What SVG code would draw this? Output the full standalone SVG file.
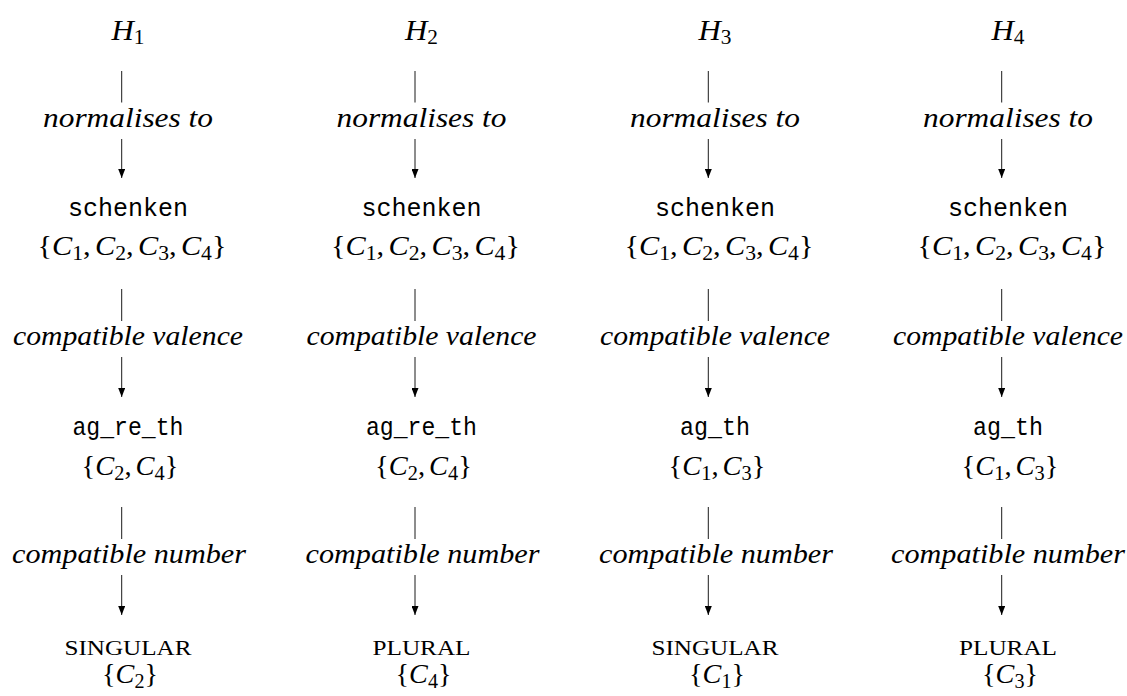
<svg xmlns="http://www.w3.org/2000/svg" width="1127" height="696" viewBox="0 0 1127 696">
<style>
text{fill:#000;text-anchor:middle}
.mi{font-family:"Liberation Serif",serif;font-style:italic}
.rm{font-family:"Liberation Serif",serif;font-style:normal}
.h{font-family:"Liberation Serif",serif;font-size:29px}
.set{font-family:"Liberation Serif",serif;font-size:28px}
.sub{font-family:"Liberation Serif",serif;font-style:normal;font-size:20px}
.tt{font-family:"Liberation Mono",monospace;font-size:25px}
.lbl{font-family:"Liberation Serif",serif;font-style:italic;font-size:28px}
.sc{font-family:"Liberation Serif",serif;font-size:22px}
.edge{stroke:#000;stroke-width:0.9;fill:none}
</style>
<defs>
<marker id="ah" viewBox="0 0 9 7" refX="9" refY="3.5" markerWidth="9" markerHeight="7" markerUnits="userSpaceOnUse" orient="auto">
<path d="M0,0 L9,3.5 L0,7 Z" fill="#000"/>
</marker>
</defs>
<rect width="1127" height="696" fill="#fff"/>

<!-- Column 1 -->
<g id="h1"><text class="h" x="128" y="40" textLength="33" lengthAdjust="spacingAndGlyphs"><tspan class="mi">H</tspan><tspan class="sub" dy="4">1</tspan></text></g>
<g id="c1-schenken"><text class="tt" x="128" y="216" textLength="120" lengthAdjust="spacingAndGlyphs">schenken</text><text class="set" x="132" y="255" textLength="189" lengthAdjust="spacingAndGlyphs"><tspan class="rm">{</tspan><tspan class="mi">C</tspan><tspan class="sub" dy="5">1</tspan><tspan class="rm" dy="-5">,</tspan><tspan class="mi" dx="4">C</tspan><tspan class="sub" dy="5">2</tspan><tspan class="rm" dy="-5">,</tspan><tspan class="mi" dx="4">C</tspan><tspan class="sub" dy="5">3</tspan><tspan class="rm" dy="-5">,</tspan><tspan class="mi" dx="4">C</tspan><tspan class="sub" dy="5">4</tspan><tspan class="rm" dy="-5">}</tspan></text></g>
<g id="c1-val"><text class="tt" x="128" y="435" textLength="111" lengthAdjust="spacingAndGlyphs">ag_re_th</text><text class="set" x="130" y="475" textLength="97" lengthAdjust="spacingAndGlyphs"><tspan class="rm">{</tspan><tspan class="mi">C</tspan><tspan class="sub" dy="5">2</tspan><tspan class="rm" dy="-5">,</tspan><tspan class="mi" dx="4">C</tspan><tspan class="sub" dy="5">4</tspan><tspan class="rm" dy="-5">}</tspan></text></g>
<g id="c1-num"><text class="sc" x="128" y="655" textLength="127" lengthAdjust="spacingAndGlyphs">SINGULAR</text><text class="set" x="130" y="683" textLength="56" lengthAdjust="spacingAndGlyphs"><tspan class="rm">{</tspan><tspan class="mi">C</tspan><tspan class="sub" dy="5">2</tspan><tspan class="rm" dy="-5">}</tspan></text></g>

<!-- Column 2 -->
<g id="h2"><text class="h" x="421.5" y="40" textLength="33" lengthAdjust="spacingAndGlyphs"><tspan class="mi">H</tspan><tspan class="sub" dy="4">2</tspan></text></g>
<g id="c2-schenken"><text class="tt" x="421.5" y="216" textLength="120" lengthAdjust="spacingAndGlyphs">schenken</text><text class="set" x="425.5" y="255" textLength="189" lengthAdjust="spacingAndGlyphs"><tspan class="rm">{</tspan><tspan class="mi">C</tspan><tspan class="sub" dy="5">1</tspan><tspan class="rm" dy="-5">,</tspan><tspan class="mi" dx="4">C</tspan><tspan class="sub" dy="5">2</tspan><tspan class="rm" dy="-5">,</tspan><tspan class="mi" dx="4">C</tspan><tspan class="sub" dy="5">3</tspan><tspan class="rm" dy="-5">,</tspan><tspan class="mi" dx="4">C</tspan><tspan class="sub" dy="5">4</tspan><tspan class="rm" dy="-5">}</tspan></text></g>
<g id="c2-val"><text class="tt" x="421.5" y="435" textLength="111" lengthAdjust="spacingAndGlyphs">ag_re_th</text><text class="set" x="423.5" y="475" textLength="97" lengthAdjust="spacingAndGlyphs"><tspan class="rm">{</tspan><tspan class="mi">C</tspan><tspan class="sub" dy="5">2</tspan><tspan class="rm" dy="-5">,</tspan><tspan class="mi" dx="4">C</tspan><tspan class="sub" dy="5">4</tspan><tspan class="rm" dy="-5">}</tspan></text></g>
<g id="c2-num"><text class="sc" x="421.5" y="655" textLength="98" lengthAdjust="spacingAndGlyphs">PLURAL</text><text class="set" x="423.5" y="683" textLength="56" lengthAdjust="spacingAndGlyphs"><tspan class="rm">{</tspan><tspan class="mi">C</tspan><tspan class="sub" dy="5">4</tspan><tspan class="rm" dy="-5">}</tspan></text></g>

<!-- Column 3 -->
<g id="h3"><text class="h" x="715" y="40" textLength="33" lengthAdjust="spacingAndGlyphs"><tspan class="mi">H</tspan><tspan class="sub" dy="4">3</tspan></text></g>
<g id="c3-schenken"><text class="tt" x="715" y="216" textLength="120" lengthAdjust="spacingAndGlyphs">schenken</text><text class="set" x="719" y="255" textLength="189" lengthAdjust="spacingAndGlyphs"><tspan class="rm">{</tspan><tspan class="mi">C</tspan><tspan class="sub" dy="5">1</tspan><tspan class="rm" dy="-5">,</tspan><tspan class="mi" dx="4">C</tspan><tspan class="sub" dy="5">2</tspan><tspan class="rm" dy="-5">,</tspan><tspan class="mi" dx="4">C</tspan><tspan class="sub" dy="5">3</tspan><tspan class="rm" dy="-5">,</tspan><tspan class="mi" dx="4">C</tspan><tspan class="sub" dy="5">4</tspan><tspan class="rm" dy="-5">}</tspan></text></g>
<g id="c3-val"><text class="tt" x="715" y="435" textLength="70" lengthAdjust="spacingAndGlyphs">ag_th</text><text class="set" x="717" y="475" textLength="97" lengthAdjust="spacingAndGlyphs"><tspan class="rm">{</tspan><tspan class="mi">C</tspan><tspan class="sub" dy="5">1</tspan><tspan class="rm" dy="-5">,</tspan><tspan class="mi" dx="4">C</tspan><tspan class="sub" dy="5">3</tspan><tspan class="rm" dy="-5">}</tspan></text></g>
<g id="c3-num"><text class="sc" x="715" y="655" textLength="127" lengthAdjust="spacingAndGlyphs">SINGULAR</text><text class="set" x="717" y="683" textLength="56" lengthAdjust="spacingAndGlyphs"><tspan class="rm">{</tspan><tspan class="mi">C</tspan><tspan class="sub" dy="5">1</tspan><tspan class="rm" dy="-5">}</tspan></text></g>

<!-- Column 4 -->
<g id="h4"><text class="h" x="1008" y="40" textLength="33" lengthAdjust="spacingAndGlyphs"><tspan class="mi">H</tspan><tspan class="sub" dy="4">4</tspan></text></g>
<g id="c4-schenken"><text class="tt" x="1008" y="216" textLength="120" lengthAdjust="spacingAndGlyphs">schenken</text><text class="set" x="1012" y="255" textLength="189" lengthAdjust="spacingAndGlyphs"><tspan class="rm">{</tspan><tspan class="mi">C</tspan><tspan class="sub" dy="5">1</tspan><tspan class="rm" dy="-5">,</tspan><tspan class="mi" dx="4">C</tspan><tspan class="sub" dy="5">2</tspan><tspan class="rm" dy="-5">,</tspan><tspan class="mi" dx="4">C</tspan><tspan class="sub" dy="5">3</tspan><tspan class="rm" dy="-5">,</tspan><tspan class="mi" dx="4">C</tspan><tspan class="sub" dy="5">4</tspan><tspan class="rm" dy="-5">}</tspan></text></g>
<g id="c4-val"><text class="tt" x="1008" y="435" textLength="70" lengthAdjust="spacingAndGlyphs">ag_th</text><text class="set" x="1010" y="475" textLength="97" lengthAdjust="spacingAndGlyphs"><tspan class="rm">{</tspan><tspan class="mi">C</tspan><tspan class="sub" dy="5">1</tspan><tspan class="rm" dy="-5">,</tspan><tspan class="mi" dx="4">C</tspan><tspan class="sub" dy="5">3</tspan><tspan class="rm" dy="-5">}</tspan></text></g>
<g id="c4-num"><text class="sc" x="1008" y="655" textLength="98" lengthAdjust="spacingAndGlyphs">PLURAL</text><text class="set" x="1010" y="683" textLength="56" lengthAdjust="spacingAndGlyphs"><tspan class="rm">{</tspan><tspan class="mi">C</tspan><tspan class="sub" dy="5">3</tspan><tspan class="rm" dy="-5">}</tspan></text></g>

<!-- Connectors -->
<g id="connectors">
<g id="e1">
<line class="edge" x1="121.7" y1="71" x2="121.7" y2="102.5"/><line class="edge" x1="121.7" y1="139" x2="121.7" y2="178" marker-end="url(#ah)"/>
<line class="edge" x1="121.7" y1="289" x2="121.7" y2="321"/><line class="edge" x1="121.7" y1="357" x2="121.7" y2="397" marker-end="url(#ah)"/>
<line class="edge" x1="121.7" y1="507" x2="121.7" y2="539"/><line class="edge" x1="121.7" y1="575" x2="121.7" y2="615" marker-end="url(#ah)"/>
<text class="lbl" x="128" y="127" textLength="170" lengthAdjust="spacingAndGlyphs">normalises to</text>
<text class="lbl" x="128" y="345" textLength="230" lengthAdjust="spacingAndGlyphs">compatible valence</text>
<text class="lbl" x="129" y="563" textLength="234" lengthAdjust="spacingAndGlyphs">compatible number</text>
</g>
<g id="e2">
<line class="edge" x1="415" y1="71" x2="415" y2="102.5"/><line class="edge" x1="415" y1="139" x2="415" y2="178" marker-end="url(#ah)"/>
<line class="edge" x1="415" y1="289" x2="415" y2="321"/><line class="edge" x1="415" y1="357" x2="415" y2="397" marker-end="url(#ah)"/>
<line class="edge" x1="415" y1="507" x2="415" y2="539"/><line class="edge" x1="415" y1="575" x2="415" y2="615" marker-end="url(#ah)"/>
<text class="lbl" x="421.5" y="127" textLength="170" lengthAdjust="spacingAndGlyphs">normalises to</text>
<text class="lbl" x="421.5" y="345" textLength="230" lengthAdjust="spacingAndGlyphs">compatible valence</text>
<text class="lbl" x="422.5" y="563" textLength="234" lengthAdjust="spacingAndGlyphs">compatible number</text>
</g>
<g id="e3">
<line class="edge" x1="708.3" y1="71" x2="708.3" y2="102.5"/><line class="edge" x1="708.3" y1="139" x2="708.3" y2="178" marker-end="url(#ah)"/>
<line class="edge" x1="708.3" y1="289" x2="708.3" y2="321"/><line class="edge" x1="708.3" y1="357" x2="708.3" y2="397" marker-end="url(#ah)"/>
<line class="edge" x1="708.3" y1="507" x2="708.3" y2="539"/><line class="edge" x1="708.3" y1="575" x2="708.3" y2="615" marker-end="url(#ah)"/>
<text class="lbl" x="715" y="127" textLength="170" lengthAdjust="spacingAndGlyphs">normalises to</text>
<text class="lbl" x="715" y="345" textLength="230" lengthAdjust="spacingAndGlyphs">compatible valence</text>
<text class="lbl" x="716" y="563" textLength="234" lengthAdjust="spacingAndGlyphs">compatible number</text>
</g>
<g id="e4">
<line class="edge" x1="1001.7" y1="71" x2="1001.7" y2="102.5"/><line class="edge" x1="1001.7" y1="139" x2="1001.7" y2="178" marker-end="url(#ah)"/>
<line class="edge" x1="1001.7" y1="289" x2="1001.7" y2="321"/><line class="edge" x1="1001.7" y1="357" x2="1001.7" y2="397" marker-end="url(#ah)"/>
<line class="edge" x1="1001.7" y1="507" x2="1001.7" y2="539"/><line class="edge" x1="1001.7" y1="575" x2="1001.7" y2="615" marker-end="url(#ah)"/>
<text class="lbl" x="1008" y="127" textLength="170" lengthAdjust="spacingAndGlyphs">normalises to</text>
<text class="lbl" x="1008" y="345" textLength="230" lengthAdjust="spacingAndGlyphs">compatible valence</text>
<text class="lbl" x="1008" y="563" textLength="234" lengthAdjust="spacingAndGlyphs">compatible number</text>
</g>
</g>
</svg>
